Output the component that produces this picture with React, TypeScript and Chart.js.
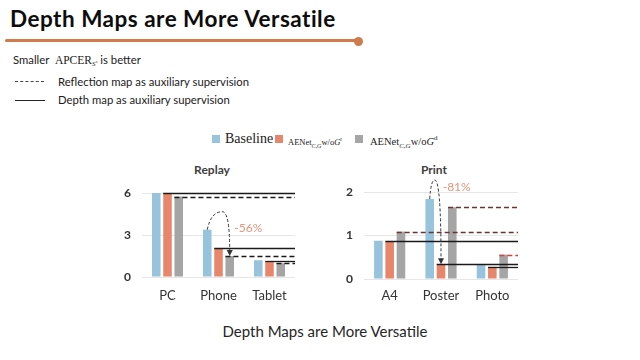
import React, { useEffect, useRef } from "react";
import { Chart, registerables } from "chart.js";
Chart.register(...registerables);

// ---- data ----
const replayCategories = ["PC", "Phone", "Tablet"];
const replayBaseline = [6.0, 3.38, 1.2];
const replayNoGr = [6.0, 2.05, 1.13];
const replayNoGd = [5.75, 1.5, 0.98];
const replayTicks = [0, 3, 6];

const printCategories = ["A4", "Poster", "Photo"];
const printBaseline = [0.88, 1.84, 0.34];
const printNoGr = [0.87, 0.34, 0.28];
const printNoGd = [1.09, 1.65, 0.56];
const printTicks = [0, 1, 2];

const seriesNames = ["Baseline", "AENet w/o Gr", "AENet w/o Gd"];
const seriesColors = ["#97C4DC", "#E8866C", "#A5A5A5"];

const FONT = "Lato, 'Open Sans', sans-serif";
const SERIF = "'Liberation Serif', 'DejaVu Serif', serif";

// solid lines from orange-bar tops, dashed from gray-bar tops
const refLinesPlugin = {
  id: "refLines",
  afterDatasetsDraw(chart: any, _args: any, opts: any) {
    const { ctx, chartArea, scales } = chart;
    const ys = scales.y;
    const right = chartArea.right;
    ctx.save();
    const solidMeta = chart.getDatasetMeta(1);
    chart.data.datasets[1].data.forEach((v: number, i: number) => {
      const bar = solidMeta.data[i];
      const left = bar.x - bar.width / 2;
      const py = Math.round(ys.getPixelForValue(v)) + 0.5;
      ctx.strokeStyle = opts.solidColor || "#222";
      ctx.lineWidth = 1.3;
      ctx.setLineDash([]);
      ctx.beginPath();
      ctx.moveTo(left, py);
      ctx.lineTo(right, py);
      ctx.stroke();
    });
    const dashMeta = chart.getDatasetMeta(2);
    chart.data.datasets[2].data.forEach((v: number, i: number) => {
      const bar = dashMeta.data[i];
      const left = bar.x - bar.width / 2;
      const py = Math.round(ys.getPixelForValue(v)) + 0.5;
      ctx.strokeStyle = (opts.dashColors && opts.dashColors[i]) || "#222";
      ctx.lineWidth = 1.5;
      ctx.setLineDash([5, 3]);
      ctx.beginPath();
      ctx.moveTo(left, py);
      ctx.lineTo(right, py);
      ctx.stroke();
    });
    ctx.restore();
  },
};

const dropArrowPlugin = {
  id: "dropArrow",
  afterDraw(chart: any, _args: any, o: any) {
    if (!o || o.index === undefined) return;
    const { ctx } = chart;
    const from = chart.getDatasetMeta(o.fromDataset).data[o.index];
    const to = chart.getDatasetMeta(o.toDataset).data[o.index];
    const sx = from.x, sy = from.y;
    const ex = to.x, ey = to.y;
    const px = sx + o.peakDx, py = sy + o.peakDy;
    ctx.save();
    ctx.strokeStyle = "#333";
    ctx.lineWidth = 1;
    ctx.setLineDash([3, 2]);
    ctx.beginPath();
    ctx.moveTo(sx, sy);
    ctx.quadraticCurveTo(sx + (px - sx) * 0.25, py, px, py);
    ctx.quadraticCurveTo(ex, py, ex, ey - 5);
    ctx.stroke();
    ctx.setLineDash([]);
    ctx.fillStyle = "#333";
    ctx.beginPath();
    ctx.moveTo(ex, ey);
    ctx.lineTo(ex - 3, ey - 6);
    ctx.lineTo(ex + 3, ey - 6);
    ctx.closePath();
    ctx.fill();
    ctx.fillStyle = o.labelColor;
    ctx.font = `12px ${FONT}`;
    ctx.textBaseline = "middle";
    ctx.textAlign = "left";
    ctx.fillText(o.label, px + o.labelDx, py + o.labelDy);
    ctx.restore();
  },
};

function buildConfig(p: {
  categories: string[];
  series: number[][];
  ticks: number[];
  max: number;
  padTop: number;
  padRight: number;
  yWidth: number;
  xPad: number;
  dashColors: string[];
  arrow: any;
}) {
  return {
    type: "bar" as const,
    data: {
      labels: p.categories,
      datasets: p.series.map((d, i) => ({
        label: seriesNames[i],
        data: d,
        backgroundColor: seriesColors[i],
        borderWidth: 0,
        categoryPercentage: 0.66,
        barPercentage: 0.76,
      })),
    },
    options: {
      responsive: false,
      animation: false as const,
      layout: { padding: { left: 0, right: p.padRight, top: p.padTop, bottom: 0 } },
      plugins: {
        legend: { display: false },
        tooltip: { enabled: false },
        title: { display: false },
        refLines: { dashColors: p.dashColors, solidColor: "#1a1a1a" },
        dropArrow: p.arrow,
      },
      scales: {
        x: {
          grid: { display: false },
          border: { display: false },
          ticks: { color: "#333", font: { family: FONT, size: 13 }, padding: p.xPad },
          afterFit: (s: any) => {
            s.height = 28;
          },
        },
        y: {
          min: 0,
          max: p.max,
          afterBuildTicks: (s: any) => {
            s.ticks = p.ticks.map((v) => ({ value: v }));
          },
          grid: { color: "#E6E6E6", drawTicks: false, lineWidth: 1 },
          border: { display: false },
          ticks: {
            color: "#333",
            font: { family: FONT, size: 12, weight: "bold" as const },
            padding: 11,
          },
          afterFit: (s: any) => {
            s.width = p.yWidth;
          },
        },
      },
    },
    plugins: [refLinesPlugin, dropArrowPlugin],
  };
}

function BarChart(props: { config: any; left: number; top: number; width: number; height: number }) {
  const ref = useRef<HTMLCanvasElement>(null);
  useEffect(() => {
    const chart = new Chart(ref.current as HTMLCanvasElement, props.config);
    return () => chart.destroy();
  }, []);
  return (
    <canvas
      ref={ref}
      width={props.width}
      height={props.height}
      style={{ position: "absolute", left: props.left, top: props.top, width: props.width, height: props.height }}
    />
  );
}

const abs = (s: any) => ({ position: "absolute" as const, whiteSpace: "nowrap" as const, ...s });

export default function App() {
  const replayConfig = buildConfig({
    categories: replayCategories,
    series: [replayBaseline, replayNoGr, replayNoGd],
    ticks: replayTicks,
    max: 6,
    padTop: 38,
    padRight: 5,
    yWidth: 42,
    xPad: 3,
    dashColors: ["#1a1a1a", "#1a1a1a", "#1a1a1a"],
    arrow: { index: 1, fromDataset: 0, toDataset: 2, peakDx: 15, peakDy: -18, label: "-56%", labelColor: "#E2957C", labelDx: 12, labelDy: 16 },
  });
  const printConfig = buildConfig({
    categories: printCategories,
    series: [printBaseline, printNoGr, printNoGd],
    ticks: printTicks,
    max: 2,
    padTop: 37,
    padRight: 7,
    yWidth: 44,
    xPad: 1,
    dashColors: ["#6E3434", "#6E3434", "#D8403A"],
    arrow: { index: 1, fromDataset: 0, toDataset: 1, peakDx: 5, peakDy: -19, label: "-81%", labelColor: "#E2957C", labelDx: 8, labelDy: 7 },
  });

  const sq = (c: string, left: number) => (
    <div style={abs({ left, top: 135, width: 8, height: 8, background: c })} />
  );

  return (
    <div style={{ position: "fixed", left: 0, top: 0, width: 640, height: 360, background: "#fff", overflow: "hidden", fontFamily: FONT, color: "#1a1a1a" }}>
      <div style={abs({ left: 10, top: 7, fontSize: 22.5, lineHeight: "23px", fontWeight: 700, letterSpacing: 0.5, color: "#0d0d0d" })}>
        Depth Maps are More Versatile
      </div>
      <div style={abs({ left: 5, top: 39, width: 352, height: 3, background: "#CF7B4C", borderRadius: 2 })} />
      <div style={abs({ left: 354, top: 36.5, width: 9, height: 9, borderRadius: 5, background: "#CF7B4C" })} />

      <div style={abs({ left: 13, top: 53, fontSize: 11.3, lineHeight: "14px" })}>
        Smaller&nbsp;&nbsp;
        <span style={{ fontFamily: SERIF, fontSize: 11.5 }}>
          APCER
          <sub style={{ fontSize: 7, fontStyle: "italic", verticalAlign: "-2px" }}>
            S<sup style={{ fontSize: 5 }}>s</sup>
          </sub>
        </span>{" "}
        is better
      </div>
      <div style={abs({ left: 15, top: 81, width: 29, borderTop: "1px dashed #444" })} />
      <div style={abs({ left: 58, top: 75, fontSize: 11.3, lineHeight: "14px" })}>Reflection map as auxiliary supervision</div>
      <div style={abs({ left: 15, top: 100, width: 30, borderTop: "1px solid #222" })} />
      <div style={abs({ left: 58, top: 93, fontSize: 11.3, lineHeight: "14px" })}>Depth map as auxiliary supervision</div>

      {sq(seriesColors[0], 212)}
      <div style={abs({ left: 225, top: 131, fontFamily: SERIF, fontSize: 14, lineHeight: "16px", color: "#222" })}>Baseline</div>
      {sq(seriesColors[1], 275)}
      <div style={abs({ left: 288, top: 133, fontFamily: SERIF, fontSize: 8.5, lineHeight: "12px", color: "#222" })}>
        AENet<sub style={{ fontSize: 6, fontStyle: "italic" }}>C,G</sub>w/o<i>G</i>
        <sup style={{ fontSize: 5.5 }}>r</sup>
      </div>
      {sq(seriesColors[2], 355)}
      <div style={abs({ left: 370, top: 131, fontFamily: SERIF, fontSize: 10.5, lineHeight: "14px", color: "#222" })}>
        AENet<sub style={{ fontSize: 7, fontStyle: "italic" }}>C,G</sub>w/o<i>G</i>
        <sup style={{ fontSize: 7 }}>d</sup>
      </div>

      <div style={abs({ left: 162, width: 100, textAlign: "center", top: 162, fontSize: 12, lineHeight: "16px", fontWeight: 700, color: "#404040" })}>Replay</div>
      <div style={abs({ left: 384, width: 100, textAlign: "center", top: 162, fontSize: 12, lineHeight: "16px", fontWeight: 700, color: "#404040" })}>Print</div>

      <BarChart config={replayConfig} left={100} top={155} width={200} height={150} />
      <BarChart config={printConfig} left={320} top={155} width={205} height={152} />

      <div style={abs({ left: 0, width: 650, textAlign: "center", top: 322, fontSize: 15, lineHeight: "18px", color: "#262626" })}>
        Depth Maps are More Versatile
      </div>
    </div>
  );
}
